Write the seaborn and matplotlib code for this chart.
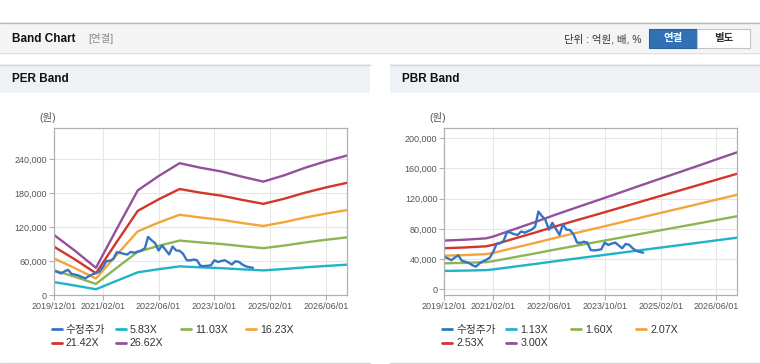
import pandas as pd
import matplotlib.pyplot as plt
import seaborn as sns
from matplotlib.lines import Line2D
from matplotlib.patches import Rectangle
from matplotlib.ticker import FuncFormatter

# values
price_start = '2019-12-01'
price = [43000, 41000, 38500, 42000, 45000, 38000, 36500, 35000, 32000, 30000,
         34000, 37000, 39000, 42000, 50000, 60000, 61000, 64000, 76000, 75000,
         73000, 72000, 76500, 75000, 77000, 79000, 83000, 103000, 97000, 92000,
         79000, 88000, 80000, 72000, 86000, 79000, 78500, 73000, 62000, 61500,
         63000, 62000, 52000, 51500, 52000, 53000, 61800, 58700, 60500, 61800,
         58000, 54300, 60000, 59000, 54300, 51000, 49500, 48500]

eps_dates = ['2019-12-01', '2020-06-01', '2020-12-01', '2021-06-01', '2021-12-01',
             '2022-06-01', '2022-12-01', '2023-06-01', '2023-12-01', '2024-06-01',
             '2024-12-01', '2025-06-01', '2025-12-01', '2026-06-01', '2026-12-01']
eps = [4000, 2950, 1820, 4400, 6950, 7900, 8750, 8450, 8200, 7850, 7530,
       7950, 8450, 8880, 9260]

bps_dates = ['2019-12-01', '2020-06-01', '2020-12-01', '2021-02-01', '2021-08-01',
             '2022-02-01', '2022-08-01', '2023-02-01', '2023-08-01', '2024-02-01',
             '2024-08-01', '2025-02-01', '2025-08-01', '2026-02-01', '2026-08-01',
             '2026-12-01']
bps = [21500, 21900, 22500, 23300, 26500, 29700, 33000, 36200, 39300, 42500,
       45700, 48900, 52000, 55200, 58400, 60500]

per_multiples = [5.83, 11.03, 16.23, 21.42, 26.62]
pbr_multiples = [1.13, 1.60, 2.07, 2.53, 3.00]

x_ticks = ['2019/12/01', '2021/02/01', '2022/06/01', '2023/10/01', '2025/02/01', '2026/06/01']
per_yticks = [0, 60000, 120000, 180000, 240000]
pbr_yticks = [0, 40000, 80000, 120000, 160000, 200000]

price_label = '수정주가'
price_color = '#3574c4'
band_colors = ['#1fb3c7', '#8cb553', '#f4a53a', '#d1352c', '#94509c']

sns.set_theme(style='white')
plt.rcParams['font.family'] = ['Liberation Sans', 'Noto Sans CJK KR']

W, H = 760, 364
fig = plt.figure(figsize=(W / 100, H / 100), dpi=100)


def px_rect(x, y, w, h, **kw):
    fig.patches.append(Rectangle((x / W, 1 - (y + h) / H), w / W, h / H,
                                 transform=fig.transFigure, **kw))


def px_text(x, y, s, **kw):
    fig.text(x / W, 1 - y / H, s, **kw)


def px_hline(x0, x1, y, color):
    fig.lines.append(Line2D([x0 / W, x1 / W], [1 - y / H, 1 - y / H],
                            transform=fig.transFigure, color=color, lw=1))


# top header bar
px_rect(0, 22, 760, 30, facecolor='#f4f4f4', edgecolor='none')
px_hline(0, 760, 22.5, '#b8b8b8')
px_hline(0, 760, 52.5, '#dedede')
px_text(12, 39, 'Band Chart', fontsize=8.5, fontweight='bold', color='#111111', va='center')
px_text(88, 39, '[연결]', fontsize=7.5, color='#8a8a8a', va='center')
px_text(641, 39, '단위 : 억원, 배, %', fontsize=7.5, color='#333333', va='center', ha='right')
px_rect(649, 29, 48, 19, facecolor='#3270b6', edgecolor='#2a5f9e', lw=0.8)
px_text(673, 38.5, '연결', fontsize=7.5, fontweight='bold', color='white', va='center', ha='center')
px_rect(697, 29, 53, 19, facecolor='white', edgecolor='#c4c4c4', lw=0.8)
px_text(723.5, 38.5, '별도', fontsize=7.5, fontweight='bold', color='#333333', va='center', ha='center')

# panel headers
for x0, title in [(0, 'PER Band'), (390, 'PBR Band')]:
    px_rect(x0, 64, 370, 29, facecolor='#eef1f6', edgecolor='none')
    px_hline(x0, x0 + 370, 64.5, '#d6d6d6')
    px_hline(x0, x0 + 370, 362.5, '#d6d6d6')
    px_text(x0 + 12, 79, title, fontsize=8.5, fontweight='bold', color='#111111', va='center')


def band_chart(left_px, base_dates, base, multiples, yticks, ylim):
    ax = fig.add_axes([left_px / W, (H - 295.3) / H, 293 / W, 167.3 / H])
    rows = []
    for m in multiples:
        for d, v in zip(base_dates, base):
            rows.append((pd.Timestamp(d), v * m, f'{m:.2f}X'))
    bands = pd.DataFrame(rows, columns=['date', 'value', 'series'])
    labels = [f'{m:.2f}X' for m in multiples]
    sns.lineplot(data=bands, x='date', y='value', hue='series', hue_order=labels,
                 palette=dict(zip(labels, band_colors)), estimator=None,
                 legend=False, lw=1.7, ax=ax)
    price_df = pd.DataFrame({'date': pd.date_range(price_start, periods=len(price), freq='MS'),
                             'value': price})
    sns.lineplot(data=price_df, x='date', y='value', color=price_color, lw=1.7,
                 estimator=None, ax=ax)

    ax.set_xlim(pd.Timestamp('2019-12-01'), pd.Timestamp('2026-12-01'))
    ax.set_xticks(pd.to_datetime(x_ticks, format='%Y/%m/%d'))
    ax.set_xticklabels(x_ticks)
    ax.set_ylim(*ylim)
    ax.set_yticks(yticks)
    ax.yaxis.set_major_formatter(FuncFormatter(lambda v, _: f'{v:,.0f}'))
    ax.set_xlabel('')
    ax.set_ylabel('')
    ax.grid(True, color='#e6e6e6', lw=0.8)
    ax.set_axisbelow(True)
    for s in ax.spines.values():
        s.set_color('#b0b0b0')
        s.set_linewidth(0.9)
    ax.tick_params(bottom=True, left=True, length=3.5, width=0.8, color='#b0b0b0',
                   labelsize=6.5, labelcolor='#555555', pad=1.5)
    px_text(left_px - 15, 118, '(원)', fontsize=7.5, color='#555555', va='center')

    # legend, row-major like the reference
    entries = [(price_label, price_color)] + list(zip(labels, band_colors))
    col_x = [53, 117, 182, 247]
    for i, (lab, col) in enumerate(entries):
        x = left_px - 54 + col_x[i % 4] - 1
        y = 330 if i < 4 else 343.5
        fig.legend([Line2D([], [], color=col, lw=2)], [lab], loc='center left',
                   bbox_to_anchor=(x / W, 1 - y / H), frameon=False, fontsize=7.7,
                   handlelength=0.95, handletextpad=0.35, borderpad=0,
                   borderaxespad=0, labelcolor='#333333')
    return ax


band_chart(54, eps_dates, eps, per_multiples, per_yticks, (0, 295000))
band_chart(444.3, bps_dates, bps, pbr_multiples, pbr_yticks, (-7950, 213600))

fig.savefig('out.png', dpi=100)
